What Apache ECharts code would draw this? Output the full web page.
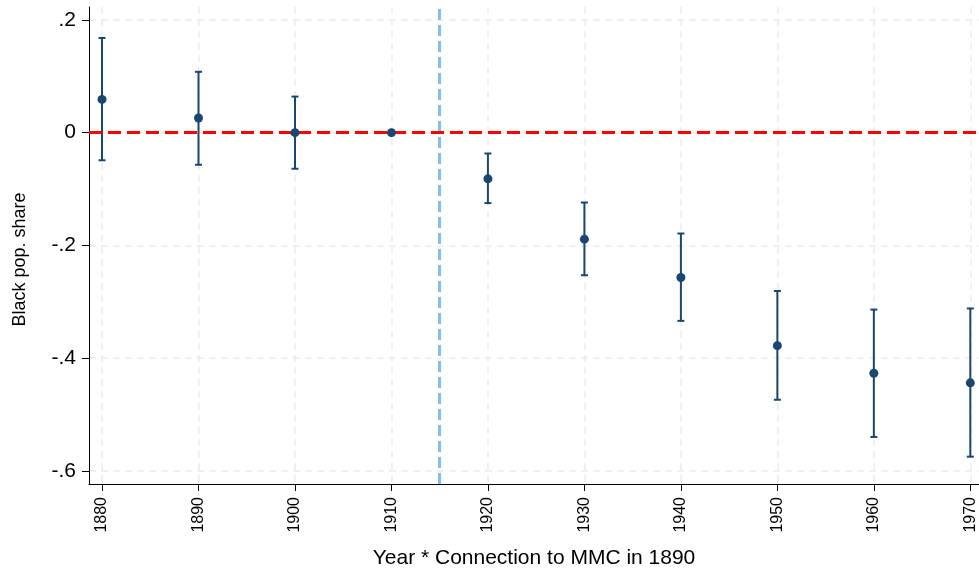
<!DOCTYPE html>
<html>
<head>
<meta charset="utf-8">
<script src="https://cdn.jsdelivr.net/npm/echarts@6/dist/echarts.min.js"></script>
<style>html,body{margin:0;padding:0;background:#fff;}#c{width:979px;height:576px;}</style>
</head>
<body>
<div id="c"></div>
<script>
const years = [1880, 1890, 1900, 1910, 1920, 1930, 1940, 1950, 1960, 1970];
const coef = [0.059, 0.026, 0.0, 0.0, -0.082, -0.189, -0.257, -0.378, -0.427, -0.444];
const ciLow = [-0.049, -0.057, -0.064, null, -0.125, -0.253, -0.334, -0.474, -0.540, -0.575];
const ciHigh = [0.168, 0.108, 0.064, null, -0.037, -0.124, -0.179, -0.281, -0.314, -0.312];
const yTicks = [-0.6, -0.4, -0.2, 0, 0.2];
const yTickLabels = ['-.6', '-.4', '-.2', '0', '.2'];
const xTicks = years;
const refY = 0;
const refX = 1915;

const navy = '#1a476f';
const font = '"Liberation Sans", Arial, Helvetica, sans-serif';

const chart = echarts.init(document.getElementById('c'), null, {renderer: 'canvas'});

const pointData = years.map((y, i) => [y, coef[i]]);
const ciData = years.map((y, i) => [y, ciLow[i], ciHigh[i]]);

const gridLine = {show: true, lineStyle: {color: '#ebebeb', width: 1.5, type: [7, 5]}};

chart.setOption({
  animation: false,
  grid: {left: 89, right: 0, top: 7, bottom: 92, containLabel: false},
  xAxis: {
    type: 'value',
    min: 1878.65,
    max: 1970.9,
    name: 'Year * Connection to MMC in 1890',
    nameLocation: 'middle',
    nameGap: 64,
    nameTextStyle: {fontFamily: font, fontSize: 21, color: '#000'},
    axisLine: {show: true, onZero: false, lineStyle: {color: '#000', width: 1}},
    axisTick: {show: true, length: 7, lineStyle: {color: '#000', width: 1}, customValues: xTicks},
    axisLabel: {show: true, rotate: 90, margin: 13, fontFamily: font, fontSize: 16, color: '#000', customValues: xTicks,
      formatter: v => String(Math.round(v))},
    splitLine: gridLine
  },
  yAxis: {
    type: 'value',
    min: -0.6235,
    max: 0.223,
    name: 'Black pop. share',
    nameLocation: 'middle',
    nameGap: 60,
    nameTextStyle: {fontFamily: font, fontSize: 18, color: '#000', padding: [0, 28, 0, 0]},
    axisLine: {show: true, onZero: false, lineStyle: {color: '#000', width: 1}},
    axisTick: {show: true, length: 7, lineStyle: {color: '#000', width: 1}, customValues: yTicks},
    axisLabel: {show: true, margin: 13, fontFamily: font, fontSize: 21, color: '#000', customValues: yTicks,
      formatter: v => {
        const i = yTicks.findIndex(t => Math.abs(t - v) < 1e-6);
        return i >= 0 ? yTickLabels[i] : '';
      }},
    splitLine: gridLine
  },
  series: [
    {
      type: 'line',
      data: [],
      z: 2,
      markLine: {
        silent: true,
        symbol: 'none',
        label: {show: false},
        data: [{xAxis: refX}],
        lineStyle: {color: '#80c1ea', width: 3, type: [11, 5], opacity: 1}
      }
    },
    {
      type: 'line',
      data: [],
      z: 3,
      markLine: {
        silent: true,
        symbol: 'none',
        label: {show: false},
        data: [{yAxis: refY}],
        lineStyle: {color: '#ff0000', width: 3, type: [13, 6], opacity: 1}
      }
    },
    {
      type: 'custom',
      z: 4,
      data: ciData,
      renderItem: function (params, api) {
        const lo = api.value(1), hi = api.value(2);
        if (lo === null || hi === null || isNaN(lo) || isNaN(hi)) return null;
        const x = api.value(0);
        const pLo = api.coord([x, lo]);
        const pHi = api.coord([x, hi]);
        const cap = 3.5;
        const style = {stroke: navy, lineWidth: 2};
        return {
          type: 'group',
          children: [
            {type: 'line', shape: {x1: pLo[0], y1: pLo[1], x2: pHi[0], y2: pHi[1]}, style: style},
            {type: 'line', shape: {x1: pLo[0] - cap, y1: pLo[1], x2: pLo[0] + cap, y2: pLo[1]}, style: style},
            {type: 'line', shape: {x1: pHi[0] - cap, y1: pHi[1], x2: pHi[0] + cap, y2: pHi[1]}, style: style}
          ]
        };
      }
    },
    {
      type: 'scatter',
      z: 5,
      data: pointData,
      symbol: 'circle',
      symbolSize: 9,
      itemStyle: {color: navy, opacity: 1}
    }
  ]
});
</script>
</body>
</html>
